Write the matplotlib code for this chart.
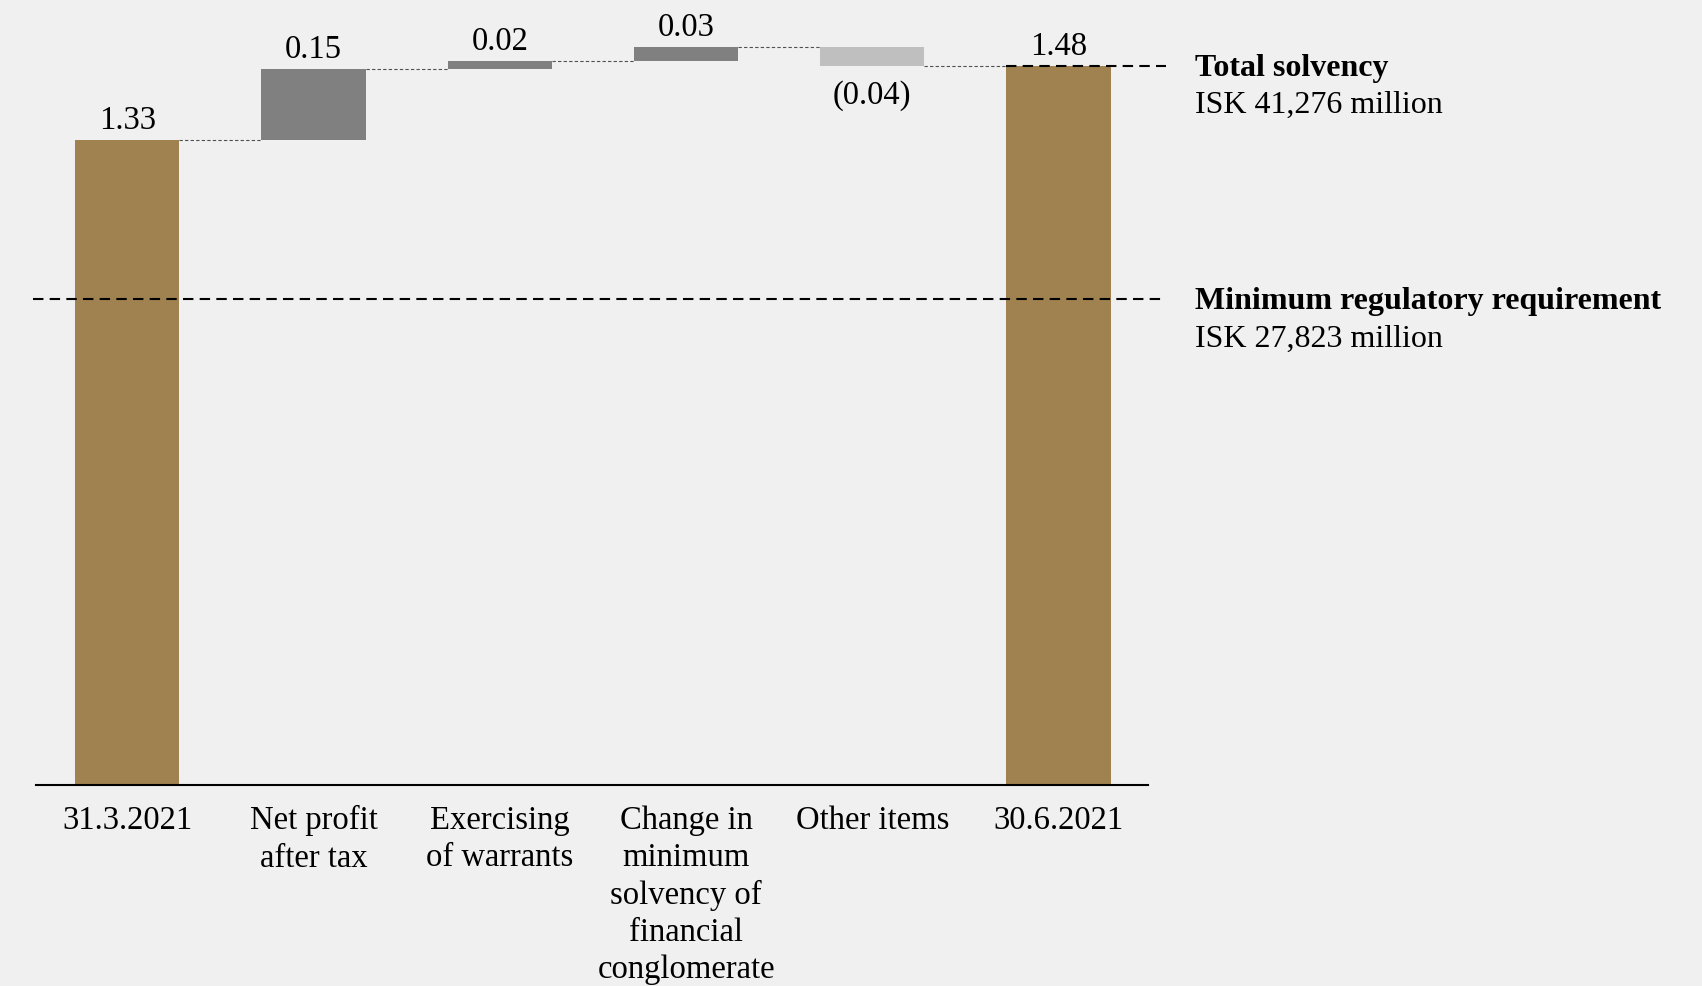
import numpy as np
import matplotlib
matplotlib.use("Agg")
import matplotlib.pyplot as plt

plt.rcParams['font.family'] = ['Liberation Serif', 'DejaVu Serif']

# data (solvency ratio relative to minimum requirement)
categories = ["31.3.2021", "Net profit\nafter tax", "Exercising\nof warrants",
              "Change in\nminimum\nsolvency of\nfinancial\nconglomerate",
              "Other items", "30.6.2021"]
start_value = 1.327
step_values = [0.146, 0.017, 0.029, -0.039]
value_labels = ["1.33", "0.15", "0.02", "0.03", "(0.04)", "1.48"]
min_requirement = 1.0
notes = [("Total solvency", "ISK 41,276 million"),
         ("Minimum regulatory requirement", "ISK 27,823 million")]

bg = '#f0f0f0'
gold = '#a08250'
dark_grey = '#808080'
light_grey = '#bfbfbf'

end_value = start_value + sum(step_values)
levels = np.concatenate([[start_value], start_value + np.cumsum(step_values)])

bottoms = [0]
heights = [start_value]
colors = [gold]
for i, s in enumerate(step_values):
    prev = levels[i]
    bottoms.append(min(prev, prev + s))
    heights.append(abs(s))
    colors.append(dark_grey if s >= 0 else light_grey)
bottoms.append(0)
heights.append(end_value)
colors.append(gold)

fig = plt.figure(figsize=(17.02, 9.87), dpi=100, facecolor=bg)
ax = fig.add_axes([0.0212, 0.2037, 0.6533, 0.7878])
ax.set_facecolor(bg)

x = np.arange(len(categories))
w = 0.56
ax.bar(x, heights, bottom=bottoms, width=w, color=colors, zorder=2)

# connectors between bars
tops = [b + h for b, h in zip(bottoms, heights)]
for i in range(len(categories) - 1):
    lvl = levels[i] if i < len(levels) else end_value
    ax.plot([x[i] + w / 2, x[i + 1] - w / 2], [lvl, lvl], color='#505050',
            lw=0.8, dashes=(3, 2), zorder=1)

# value labels
fs = 23.5
for i, lab in enumerate(value_labels):
    if i in (1, 2, 3, 4) and step_values[i - 1] < 0:
        ax.text(x[i], bottoms[i] - 0.028, lab, ha='center', va='top', fontsize=fs)
    else:
        ax.text(x[i], tops[i] + 0.01, lab, ha='center', va='bottom', fontsize=fs)

# reference lines
ax.plot([-0.508, 5.575], [min_requirement, min_requirement], color='black',
        lw=1.5, dashes=(5, 3), zorder=3, clip_on=False)
ax.plot([x[-1] - w / 2, 5.575], [end_value, end_value], color='black',
        lw=1.5, dashes=(5, 3), zorder=3, clip_on=False)

for (title, sub), yv in zip(notes, [end_value, min_requirement]):
    ax.text(5.73, yv - 0.003, title, fontsize=23, fontweight='bold',
            ha='left', va='center', clip_on=False)
    ax.text(5.73, yv - 0.08, sub, fontsize=23, ha='left', va='center',
            clip_on=False)

ax.set_xlim(-0.49, 5.48)
ax.set_ylim(0, 1.6)
ax.set_xticks(x)
ax.set_xticklabels(categories, fontsize=fs, linespacing=1.28)
ax.tick_params(axis='x', length=0, pad=14)
ax.set_yticks([])
for s in ['top', 'right', 'left']:
    ax.spines[s].set_visible(False)
ax.spines['bottom'].set_linewidth(1.5)

fig.savefig('out.png', dpi=100, facecolor=bg)
